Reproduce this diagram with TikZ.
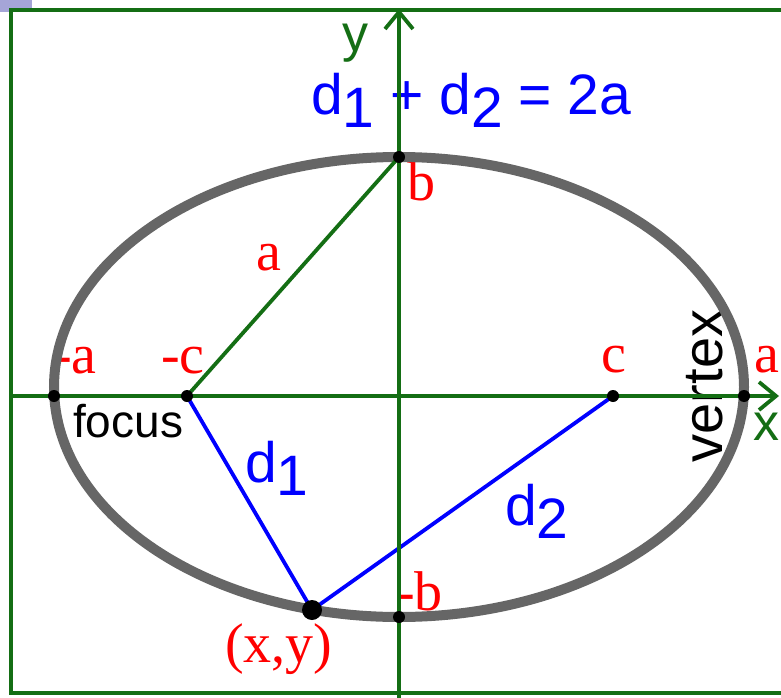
\documentclass[tikz,border=0pt]{standalone}
\usepackage{fontspec}
\setmainfont{Liberation Serif}
\newfontfamily\arialf{Liberation Sans}
\usetikzlibrary{arrows.meta}
\definecolor{axgreen}{RGB}{20,110,20}
\definecolor{elgray}{RGB}{102,102,102}
\definecolor{lav}{RGB}{165,165,215}
\newcommand{\sbl}[1]{\lower13pt\hbox{#1}}
\begin{document}
\begin{tikzpicture}[x=1pt,y=-1pt,
  redlbl/.style={text=red,inner sep=0pt,font=\fontsize{56}{62}\selectfont},
  bluelbl/.style={text=blue,inner sep=0pt,font=\arialf\fontsize{57}{63}\selectfont},
  greenlbl/.style={text=axgreen,inner sep=0pt,font=\arialf\fontsize{52}{58}\selectfont},
  blacklbl/.style={text=black,inner sep=0pt},
  axis/.style={draw=axgreen,line width=3.8pt},
  dotsm/.style={circle,fill=black,inner sep=0pt,minimum size=12pt},
  dotbig/.style={circle,fill=black,inner sep=0pt,minimum size=20pt},
  seg/.style={line width=3.8pt}]
\useasboundingbox (0,0) rectangle (781,698);
\fill[lav] (0,0) rectangle (32,12);
% frame
\draw[axis,line cap=rect] (795,10) -- (11,10) -- (11,693) -- (795,693);
% points
\coordinate (O) at (399,387);
\coordinate (F1) at (187,396);
\coordinate (F2) at (613,396);
\coordinate (B) at (399,157);
\coordinate (Bm) at (399,617);
\coordinate (V1) at (54,396);
\coordinate (V2) at (744,396);
\coordinate (P) at (312,610);
\coordinate (xl) at (11,396);
\coordinate (xr) at (779,396);
\coordinate (yb) at (399,698);
\coordinate (yt) at (399,9);
% labels
\node[redlbl,anchor=base west] (lb) at (407,200) {b};
\node[redlbl,anchor=base west] (lma) at (53,373) {-a};
\node[redlbl,anchor=base west] (lmc) at (161,373) {-c};
\node[redlbl,anchor=base west] (lc) at (601,372) {c};
\node[redlbl,anchor=base west] (lar) at (754,372) {a};
\node[redlbl,anchor=base west] (lam) at (256,270) {a};
\node[redlbl,anchor=base west] (lmb) at (396,610) {-b};
\node[redlbl,anchor=base west] (lxy) at (225,662) {(x,y)};
\node[greenlbl,anchor=base] (ly) at (355,52) {y};
\node[greenlbl,anchor=base] (lx) at (766,440) {x};
\node[blacklbl,anchor=base west,font=\arialf\fontsize{46}{52}\selectfont] (lfocus) at (73,437) {focus};
\node[blacklbl,anchor=base,rotate=90,font=\arialf\fontsize{56}{62}\selectfont] (lvertex) at (722,386) {vertex};
\node[bluelbl,anchor=base west] (eq) at (311,115) {d\sbl{1} + d\sbl{2} = 2a};
\node[bluelbl,anchor=base west] (ld1) at (245,482) {d\sbl{1}};
\node[bluelbl,anchor=base west] (ld2) at (505,525) {d\sbl{2}};
% ellipse
\draw[elgray,line width=10pt] (O) ellipse [x radius=345, y radius=230];
% segments
\draw[seg,draw=axgreen] (F1) -- (B);
\draw[seg,draw=blue] (F1) -- (P) -- (F2);
% axes
\draw[axis,-{Straight Barb[length=17pt,width=28pt,line width=3.8pt]}] (xl) -- (xr);
\draw[axis,-{Straight Barb[length=17pt,width=28pt,line width=3.8pt]}] (yb) -- (yt);
% dots
\node[dotsm] (dV1) at (V1) {};
\node[dotsm] (dF1) at (F1) {};
\node[dotsm] (dF2) at (F2) {};
\node[dotsm] (dV2) at (V2) {};
\node[dotsm] (dB) at (B) {};
\node[dotsm] (dBm) at (Bm) {};
\node[dotbig] (dP) at (P) {};
\end{tikzpicture}
\end{document}
